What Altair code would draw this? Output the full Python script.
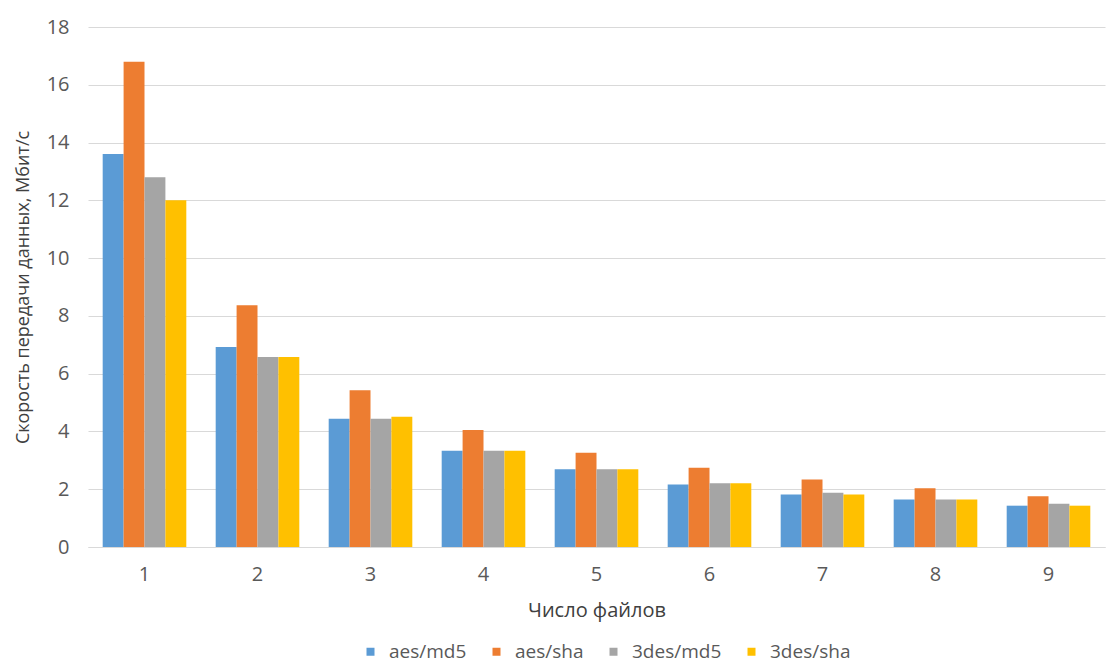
import altair as alt
import pandas as pd

# Число файлов
files = ["1", "2", "3", "4", "5", "6", "7", "8", "9"]
series = ["aes/md5", "aes/sha", "3des/md5", "3des/sha"]
colors = ["#5B9BD5", "#ED7D31", "#A5A5A5", "#FFC000"]

# Скорость передачи данных, Мбит/с
aes_md5 = [13.6, 6.92, 4.44, 3.33, 2.69, 2.16, 1.82, 1.64, 1.43]
aes_sha = [16.8, 8.37, 5.43, 4.05, 3.26, 2.74, 2.34, 2.03, 1.76]
des3_md5 = [12.8, 6.58, 4.44, 3.33, 2.69, 2.21, 1.88, 1.64, 1.50]
des3_sha = [12.0, 6.58, 4.51, 3.33, 2.69, 2.21, 1.82, 1.64, 1.43]

rows = []
for name, vals in zip(series, [aes_md5, aes_sha, des3_md5, des3_sha]):
    for f, v in zip(files, vals):
        rows.append({"files": f, "series": name, "speed": v})
df = pd.DataFrame(rows)

FONT = "Open Sans"
TXT = "#595959"

y_axis = alt.Axis(
    values=list(range(0, 19, 2)),
    domain=False,
    ticks=False,
    grid=True,
    gridColor="#D9D9D9",
    labelPadding=19,
    titlePadding=14,
    labelFontSize=20,
    titleFontSize=18,
    labelColor=TXT,
    titleColor="#404040",
    titleFontWeight="normal",
    labelFont=FONT,
    titleFont=FONT,
)

bars = alt.Chart(df).mark_bar().encode(
    x=alt.X(
        "files:N",
        sort=files,
        title="Число файлов",
        scale=alt.Scale(paddingInner=0.26, paddingOuter=0.13),
        axis=alt.Axis(
            labelAngle=0,
            ticks=False,
            grid=False,
            domainColor="#D9D9D9",
            labelPadding=17,
            titlePadding=16,
            labelFontSize=20,
            titleFontSize=20,
            labelColor=TXT,
            titleColor="#404040",
            titleFontWeight="normal",
            labelFont=FONT,
            titleFont=FONT,
        ),
    ),
    xOffset=alt.XOffset("series:N", sort=series),
    y=alt.Y(
        "speed:Q",
        title="Скорость передачи  данных, Мбит/с",
        scale=alt.Scale(domain=[0, 18]),
        axis=y_axis,
    ),
    color=alt.Color(
        "series:N",
        sort=series,
        scale=alt.Scale(domain=series, range=colors),
        legend=alt.Legend(
            title=None,
            orient="none",
            direction="horizontal",
            legendX=273,
            legendY=615,
            symbolType="square",
            symbolSize=64,
            symbolOpacity=1,
            symbolStrokeWidth=0,
            labelFontSize=19,
            labelColor=TXT,
            labelFont=FONT,
            columnPadding=20,
            labelOffset=9,
        ),
    ),
)

chart = bars.properties(
    width=1017,
    height=520,
    autosize=alt.AutoSizeParams(type="none"),
    padding={"left": 88, "top": 27, "right": 5, "bottom": 116},
).configure(
    background="white",
    view=alt.ViewConfig(stroke="transparent", strokeWidth=0, strokeOpacity=0),
    axisY=alt.AxisConfig(domain=False, domainWidth=0),
    axisQuantitative=alt.AxisConfig(domain=False, domainWidth=0),
)

chart.save("out.html", embed_options={"renderer": "svg", "actions": False})
